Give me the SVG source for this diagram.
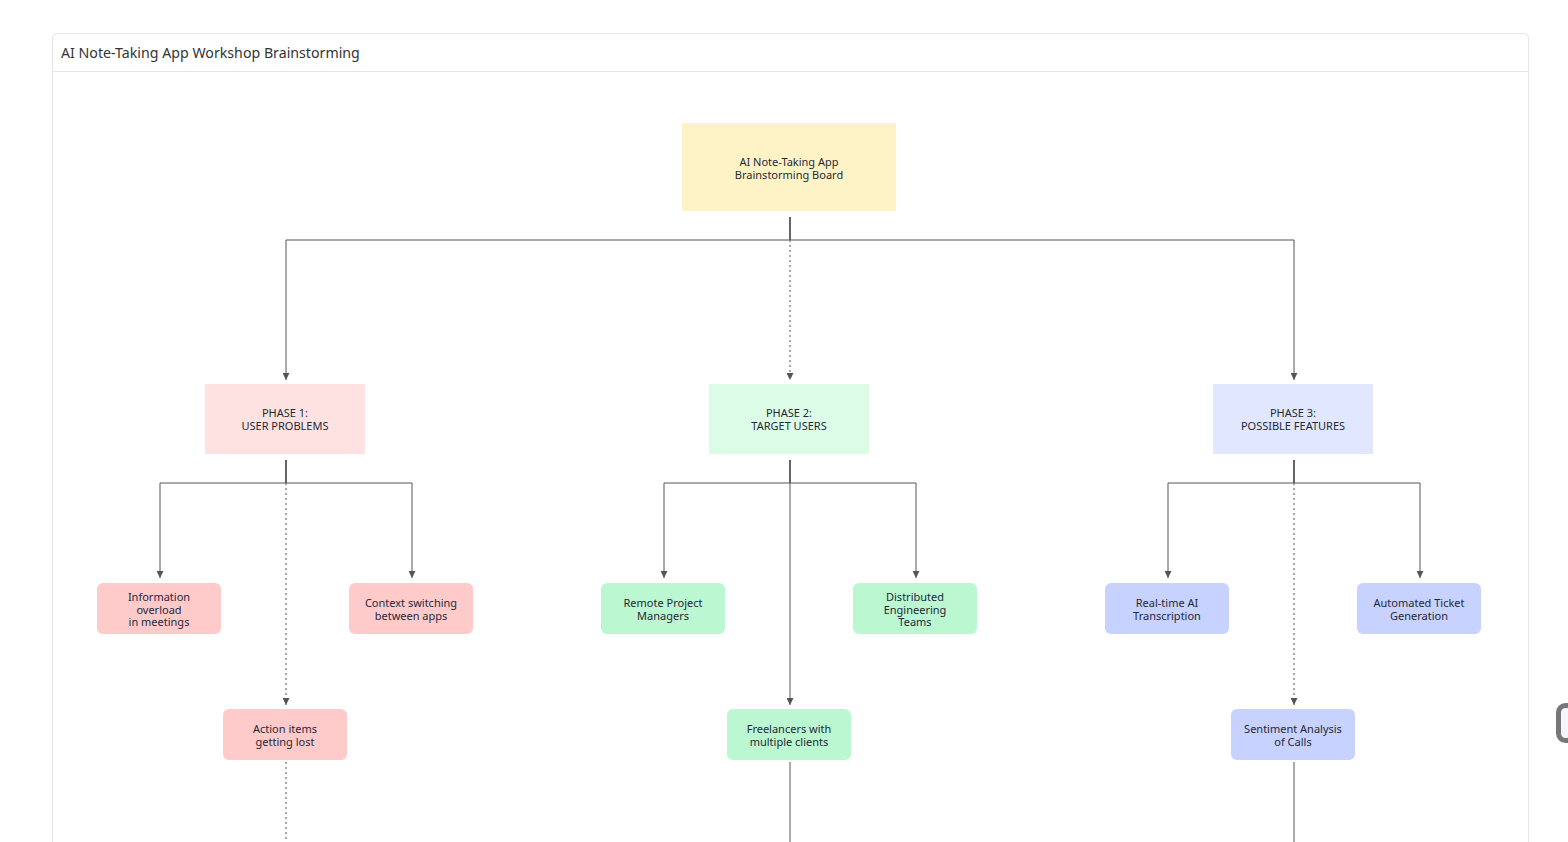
<svg xmlns="http://www.w3.org/2000/svg" width="1568" height="842" viewBox="0 0 1568 842">
<style>
.t{font-family:"Noto Sans","Open Sans","Liberation Sans",sans-serif;font-size:11px;fill:#1f2937;text-anchor:middle;dominant-baseline:central}
.ttl{font-family:"Noto Sans","Open Sans","Liberation Sans",sans-serif;font-size:14.2px;fill:#333}
.c{fill:none;stroke:#555;stroke-width:1}
.s{fill:none;stroke:#555;stroke-width:1.8}
.d{stroke-dasharray:2 3}
</style>
<defs>
<marker id="ah" viewBox="0 0 8 8" refX="8" refY="4" markerWidth="7" markerHeight="7" orient="auto" markerUnits="userSpaceOnUse">
<path d="M0,0 L8,4 L0,8 z" fill="#555"/>
</marker>
</defs>
<rect width="1568" height="842" fill="#ffffff"/>
<g id="frame">
<rect x="52.5" y="33.5" width="1476" height="830" rx="4" fill="#fff" stroke="#e5e5e5"/>
<line x1="53" y1="71.5" x2="1528" y2="71.5" stroke="#e8e8e8"/>
<text class="ttl" x="61" y="58">AI Note-Taking App Workshop Brainstorming</text>
</g>
<g id="connectors">
<path class="s" d="M790,217 V240"/>
<path class="c" d="M790,240 H286 V380" marker-end="url(#ah)"/>
<path class="c" d="M790,240 H1294 V380" marker-end="url(#ah)"/>
<path class="c d" d="M790,240 V380" marker-end="url(#ah)"/>
<path class="s" d="M286,460 V483"/>
<path class="c" d="M286,483 H160 V578" marker-end="url(#ah)"/>
<path class="c" d="M286,483 H412 V578" marker-end="url(#ah)"/>
<path class="c d" d="M286,483 V705" marker-end="url(#ah)"/>
<path class="c d" d="M286,762 V842"/>
<path class="s" d="M790,460 V483"/>
<path class="c" d="M790,483 H664 V578" marker-end="url(#ah)"/>
<path class="c" d="M790,483 H916 V578" marker-end="url(#ah)"/>
<path class="c" d="M790,483 V705" marker-end="url(#ah)"/>
<path class="c" d="M790,762 V842"/>
<path class="s" d="M1294,460 V483"/>
<path class="c" d="M1294,483 H1168 V578" marker-end="url(#ah)"/>
<path class="c" d="M1294,483 H1420 V578" marker-end="url(#ah)"/>
<path class="c d" d="M1294,483 V705" marker-end="url(#ah)"/>
<path class="c" d="M1294,762 V842"/>
</g>
<g id="root">
<rect x="682" y="123" width="214" height="88" fill="#fef3c7"/>
<text class="t" x="789" y="161.5">AI Note-Taking App</text>
<text class="t" x="789" y="174.5">Brainstorming Board</text>
</g>
<g id="phase1">
<rect x="205" y="384" width="160" height="70" fill="#fee2e2"/>
<text class="t" x="285" y="412.5">PHASE 1:</text>
<text class="t" x="285" y="425.5">USER PROBLEMS</text>
</g>
<g id="phase2">
<rect x="709" y="384" width="160" height="70" fill="#dcfce7"/>
<text class="t" x="789" y="412.5">PHASE 2:</text>
<text class="t" x="789" y="425.5">TARGET USERS</text>
</g>
<g id="phase3">
<rect x="1213" y="384" width="160" height="70" fill="#e0e7ff"/>
<text class="t" x="1293" y="412.5">PHASE 3:</text>
<text class="t" x="1293" y="425.5">POSSIBLE FEATURES</text>
</g>
<g id="info-overload">
<rect x="97" y="583" width="124" height="51" rx="6" fill="#fecaca"/>
<text class="t" x="159" y="596.5">Information</text>
<text class="t" x="159" y="609">overload</text>
<text class="t" x="159" y="621.5">in meetings</text>
</g>
<g id="context-switching">
<rect x="349" y="583" width="124" height="51" rx="6" fill="#fecaca"/>
<text class="t" x="411" y="602.5">Context switching</text>
<text class="t" x="411" y="615.5">between apps</text>
</g>
<g id="action-items">
<rect x="223" y="709" width="124" height="51" rx="6" fill="#fecaca"/>
<text class="t" x="285" y="728.5">Action items</text>
<text class="t" x="285" y="741.5">getting lost</text>
</g>
<g id="remote-pm">
<rect x="601" y="583" width="124" height="51" rx="6" fill="#bbf7d0"/>
<text class="t" x="663" y="602.5">Remote Project</text>
<text class="t" x="663" y="615.5">Managers</text>
</g>
<g id="distributed-teams">
<rect x="853" y="583" width="124" height="51" rx="6" fill="#bbf7d0"/>
<text class="t" x="915" y="596.5">Distributed</text>
<text class="t" x="915" y="609">Engineering</text>
<text class="t" x="915" y="621.5">Teams</text>
</g>
<g id="freelancers">
<rect x="727" y="709" width="124" height="51" rx="6" fill="#bbf7d0"/>
<text class="t" x="789" y="728.5">Freelancers with</text>
<text class="t" x="789" y="741.5">multiple clients</text>
</g>
<g id="transcription">
<rect x="1105" y="583" width="124" height="51" rx="6" fill="#c7d2fe"/>
<text class="t" x="1167" y="602.5">Real-time AI</text>
<text class="t" x="1167" y="615.5">Transcription</text>
</g>
<g id="ticket-generation">
<rect x="1357" y="583" width="124" height="51" rx="6" fill="#c7d2fe"/>
<text class="t" x="1419" y="602.5">Automated Ticket</text>
<text class="t" x="1419" y="615.5">Generation</text>
</g>
<g id="sentiment">
<rect x="1231" y="709" width="124" height="51" rx="6" fill="#c7d2fe"/>
<text class="t" x="1293" y="728.5">Sentiment Analysis</text>
<text class="t" x="1293" y="741.5">of Calls</text>
</g>
<rect x="1558.5" y="705.5" width="20" height="35" rx="7" fill="#f4f6fb" stroke="#777" stroke-width="5"/>
</svg>
